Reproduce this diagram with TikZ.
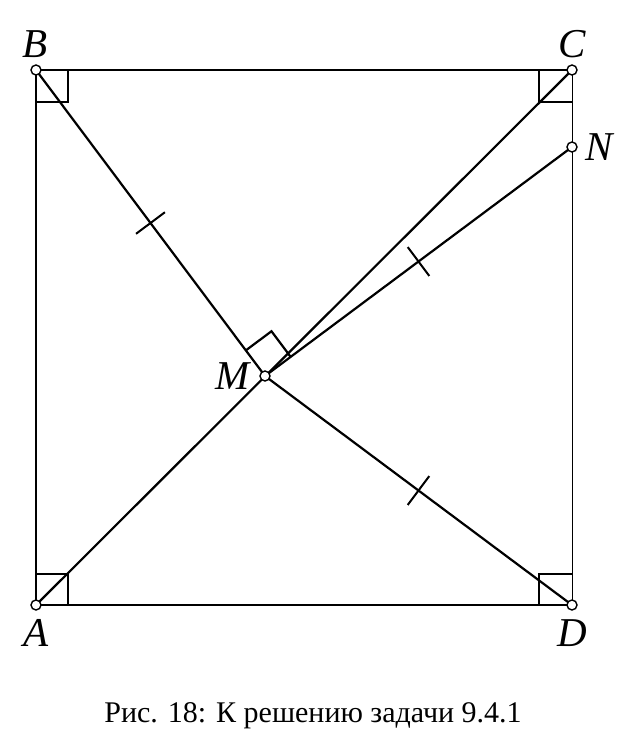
\documentclass[tikz,border=0pt]{standalone}
\usepackage{fontspec}
\setmainfont{Liberation Serif}
\usetikzlibrary{calc}
\begin{document}
\begin{tikzpicture}[x=0.5pt,y=-0.5pt,line width=1.1pt,
  thin line/.style={line width=0.45pt},
  pt/.style={draw,fill=white,line width=0.7pt},
  lbl/.style={font=\fontsize{20.5}{24}\selectfont\itshape,inner sep=0pt},
  tick/.style={line width=1pt}]
\useasboundingbox (0,0) rectangle (640,740);
\coordinate (A) at (36,605);
\coordinate (B) at (36,70);
\coordinate (C) at (572,70);
\coordinate (D) at (572,605);
\coordinate (N) at (572,147);
\coordinate (M) at (265,376);
% sides
\draw (A) -- (B) -- (C);
\draw (A) -- (D);
\draw[thin line] (C) -- (D);
% segments
\draw (A) -- (C);
\draw (B) -- (M) -- (D);
\draw (M) -- (N);
% right angles at corners
\draw ($(B)+(32,0)$) -- ++(0,32) -- ++(-32,0);
\draw ($(C)+(-33,0)$) -- ++(0,32) -- ++(33,0);
\draw ($(A)+(32,0)$) -- ++(0,-31) -- ++(-32,0);
\draw ($(D)+(-33,0)$) -- ++(0,-31) -- ++(33,0);
% right angle at M
\coordinate (mb) at ($(M)!16pt!(B)$);
\coordinate (mn) at ($(M)!16pt!(N)$);
\draw (mb) -- ($(mb)+(mn)-(M)$) -- (mn);
% ticks
\coordinate (t1) at ($(B)!0.5!(M)$);
\coordinate (t2) at ($(M)!0.5!(N)$);
\coordinate (t3) at ($(M)!0.5!(D)$);
\foreach \t/\e in {t1/M,t2/N,t3/D}
  \draw[tick] ($(\t)!9pt!90:(\e)$) -- ($(\t)!9pt!-90:(\e)$);
% points
\foreach \p in {A,B,C,D,M,N}
  \draw[pt] (\p) circle (2.5pt);
% labels
\node[lbl] (lB) at (35,44) {B};
\node[lbl] (lC) at (572,44) {C};
\node[lbl] (lN) at (599,147) {N};
\node[lbl] (lM) at (233,376) {M};
\node[lbl] (lA) at (36,633) {A};
\node[lbl] (lD) at (572,633) {D};
\node[font=\fontsize{15}{18}\selectfont,inner sep=0pt] (cap) at (313,716) {Рис. 18: К решению задачи 9.4.1};
\end{tikzpicture}
\end{document}
